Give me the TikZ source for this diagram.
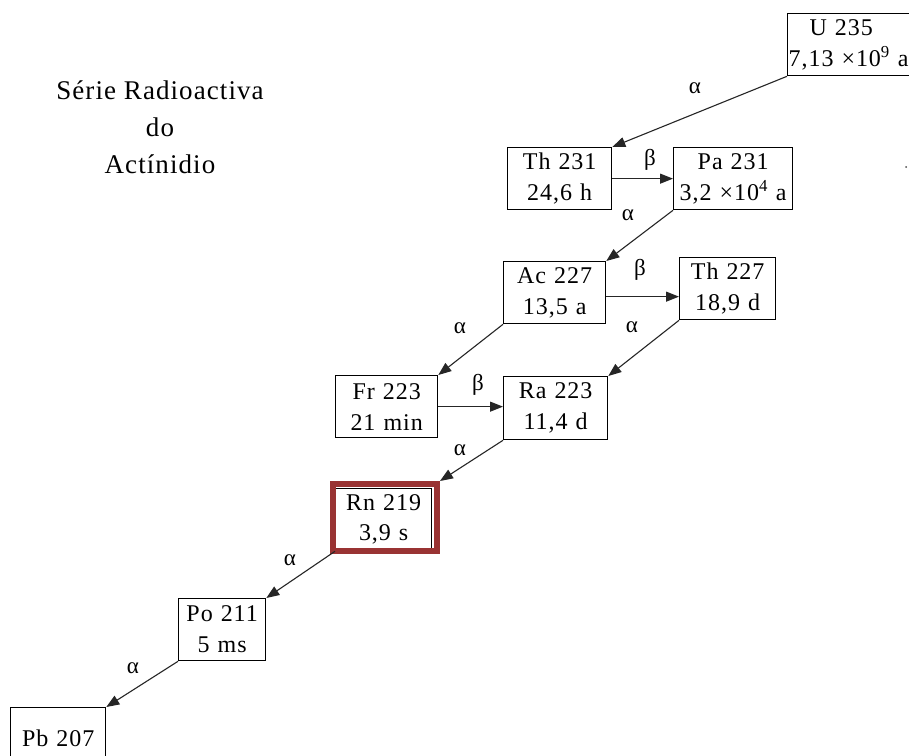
\documentclass[tikz,border=0pt]{standalone}
\usepackage{fontspec}
\setmainfont{Liberation Serif}[LetterSpace=4]
\usetikzlibrary{arrows.meta}
\definecolor{framered}{HTML}{993333}
\begin{document}
\begin{tikzpicture}[x=1pt,y=-1pt,
  nuclide/.style={draw, line width=1.3pt, inner sep=0pt, anchor=north west, align=center,
    font=\fontsize{24}{31}\selectfont},
  decay/.style={draw=black!85, line width=1.1pt, -{Triangle[length=13pt,width=10pt]}},
  lbl/.style={font=\fontsize{23}{26}\selectfont, inner sep=0pt}]
\useasboundingbox (0,0) rectangle (909,755);
\clip (0,0) rectangle (909,755);
\fill[white] (0,0) rectangle (909,755);

% title
\node[align=center, font=\fontsize{27}{37}\selectfont] (title) at (160,127)
  {Série Radioactiva\\do\\Actínidio};

% nuclides
\node[nuclide, text width=160pt, minimum height=62pt, align=left] (u235) at (787,13)
  {\hspace*{22pt}U 235\\\hspace*{1pt}7,13 ×10\textsuperscript{9} a};
\node[nuclide, text width=104pt, minimum height=62pt] (th231) at (507,147) {Th 231\\24,6 h};
\node[nuclide, text width=119pt, minimum height=62pt] (pa231) at (673,147) {Pa 231\\3,2 ×10\textsuperscript{4} a};
\node[nuclide, text width=102pt, minimum height=62pt] (ac227) at (503,261) {Ac 227\\13,5 a};
\node[nuclide, text width=96pt, minimum height=62pt] (th227) at (679,257) {Th 227\\18,9 d};
\node[nuclide, text width=102pt, minimum height=62pt] (fr223) at (335,375) {Fr 223\\21 min};
\node[nuclide, text width=104pt, minimum height=63pt] (ra223) at (503,376) {Ra 223\\11,4 d};
\node[nuclide, text width=96pt, minimum height=62pt] (rn219) at (335,488) {\raisebox{-4pt}{Rn 219}\\\raisebox{-3pt}{3,9 s}};
\node[draw=framered, line width=6pt, inner sep=0pt, minimum width=104pt, minimum height=67pt,
  anchor=north west] (rnframe) at (330,481) {};
\node[nuclide, text width=87pt, minimum height=62pt] (po211) at (178,598) {Po 211\\5 ms};
\node[nuclide, text width=95pt, minimum height=62pt] (pb207) at (10,707) {Pb 207};

% decays
\coordinate (acout) at ([yshift=-4pt]ac227.east);
\draw[decay] (u235.south west) -- (th231.north east);
\draw[decay] (th231.east) -- (pa231.west);
\draw[decay] (pa231.south west) -- (ac227.north east);
\draw[decay] (acout) -- (acout -| th227.west);
\draw[decay] (th227.south west) -- (ra223.north east);
\draw[decay] (ac227.south west) -- (fr223.north east);
\draw[decay] (fr223.east) -- (fr223.east -| ra223.west);
\draw[decay] (ra223.south west) -- (rnframe.north east);
\draw[decay] (rn219.south west) -- (po211.north east);
\draw[decay] (po211.south west) -- (pb207.north east);

% labels
\node[lbl] (a1) at (695,88) {α};
\node[lbl] (b1) at (650,160) {β};
\node[lbl] (a2) at (628,215) {α};
\node[lbl] (b2) at (640,270) {β};
\node[lbl] (a3) at (632,327) {α};
\node[lbl] (a4) at (460,328) {α};
\node[lbl] (b3) at (478,385) {β};
\node[lbl] (a5) at (460,450) {α};
\node[lbl] (a6) at (290,560) {α};
\node[lbl] (a7) at (133,668) {α};

\fill[black!70] (906,167) circle (1pt);
\end{tikzpicture}
\end{document}
